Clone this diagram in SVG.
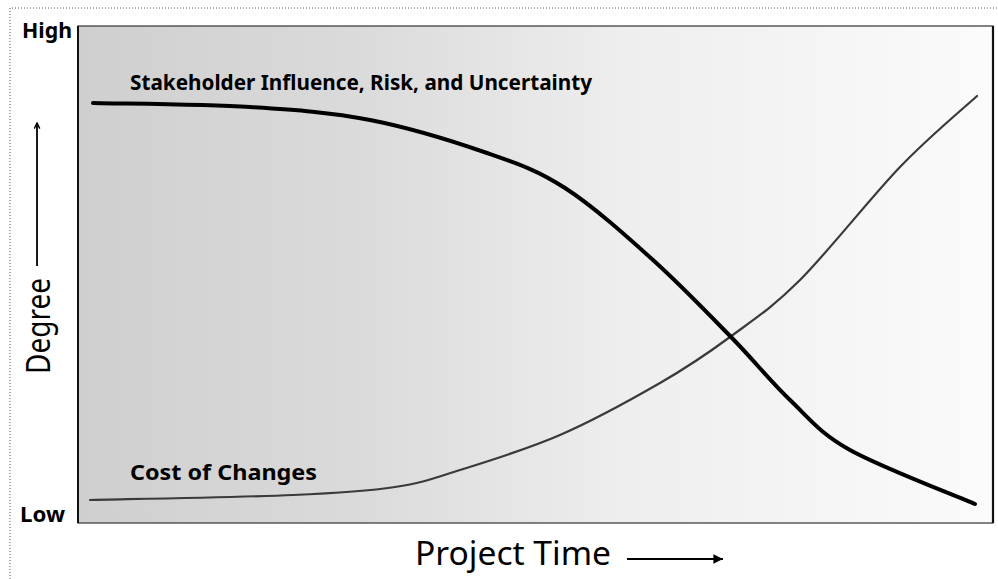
<svg xmlns="http://www.w3.org/2000/svg" width="998" height="579" viewBox="0 0 998 579">
  <defs>
    <linearGradient id="bg" x1="0" y1="0" x2="1" y2="0">
      <stop offset="0" stop-color="#cfcfcf"/>
      <stop offset="0.3" stop-color="#dadada"/>
      <stop offset="0.6" stop-color="#eeeeee"/>
      <stop offset="1" stop-color="#fbfbfb"/>
    </linearGradient>
    <marker id="arr" viewBox="0 0 10 10" refX="9" refY="5" markerWidth="7" markerHeight="7" orient="auto" markerUnits="userSpaceOnUse">
      <path d="M1,1 L9,5 L1,9" fill="none" stroke="#000" stroke-width="2"/>
    </marker>
    <marker id="arr2" viewBox="0 0 10 10" refX="9" refY="5" markerWidth="12" markerHeight="12" orient="auto" markerUnits="userSpaceOnUse">
      <path d="M1,1 L9,5 L1,9 Z" fill="#000"/>
    </marker>
  </defs>
  <style>
    .lbl{font-family:"Noto Sans","Open Sans","Liberation Sans",sans-serif;fill:#000}
    .b{font-weight:bold}
    .frame{fill:none;stroke:#555;stroke-width:1;stroke-dasharray:1 2}
  </style>
  <rect width="998" height="579" fill="#fff"/>
  <g id="outer-frame">
    <path class="frame" d="M10,579 L10,8 L998,8"/>
  </g>
  <g id="chart-area">
    <rect x="78" y="26" width="915" height="497" fill="url(#bg)" stroke="#333" stroke-width="1.2"/>
    <line x1="78" y1="26" x2="78" y2="523" stroke="#111" stroke-width="2"/>
    <line x1="993" y1="26" x2="993" y2="523" stroke="#111" stroke-width="2.2"/>
  </g>
  <g id="axis-labels">
    <text class="lbl b" x="22" y="38" font-size="22" textLength="50" lengthAdjust="spacingAndGlyphs">High</text>
    <text class="lbl b" x="20" y="522" font-size="22" textLength="45" lengthAdjust="spacingAndGlyphs">Low</text>
    <text class="lbl" transform="translate(50,374) rotate(-90)" font-size="32" textLength="96" lengthAdjust="spacingAndGlyphs">Degree</text>
    <line x1="37" y1="266" x2="37" y2="123" stroke="#000" stroke-width="1.8" marker-end="url(#arr)"/>
    <text class="lbl" x="415" y="565" font-size="32" textLength="196" lengthAdjust="spacingAndGlyphs">Project Time</text>
    <line x1="627" y1="559" x2="723" y2="559" stroke="#000" stroke-width="2.2" marker-end="url(#arr2)"/>
  </g>
  <g id="connectors">
    <path id="cost-curve" fill="none" stroke="#3a3a3a" stroke-width="2.2" stroke-linecap="round"
      d="M90,500 C123.8,499.2 242.2,497.2 293,495 S367.2,491.2 395,487 S432.5,478.7 460,470 S526.7,449.5 560,435 S631.7,399.3 660,383 S706.7,354.2 730,337 S771.7,308.3 800,280 S870.5,197.7 900,167 S964.2,107.8 977,96"/>
    <path id="stakeholder-curve" fill="none" stroke="#000" stroke-width="4" stroke-linecap="round"
      d="M93,103 C119,103.7 203.8,104.2 250,107 S330.5,112.3 370,120 S454.5,141.7 487,153 S537.3,170.2 565,188 S625.2,235 653,260 S709.2,314.7 732,338 S770.3,381.3 790,400 S819.2,432.7 850,450 S954.2,495 975,504"/>
  </g>
  <g id="stakeholder-label">
    <text class="lbl b" x="130" y="90" font-size="21" textLength="462" lengthAdjust="spacingAndGlyphs">Stakeholder Influence, Risk, and Uncertainty</text>
  </g>
  <g id="cost-label">
    <text class="lbl b" x="130" y="480" font-size="22" textLength="187" lengthAdjust="spacingAndGlyphs">Cost of Changes</text>
  </g>
</svg>
